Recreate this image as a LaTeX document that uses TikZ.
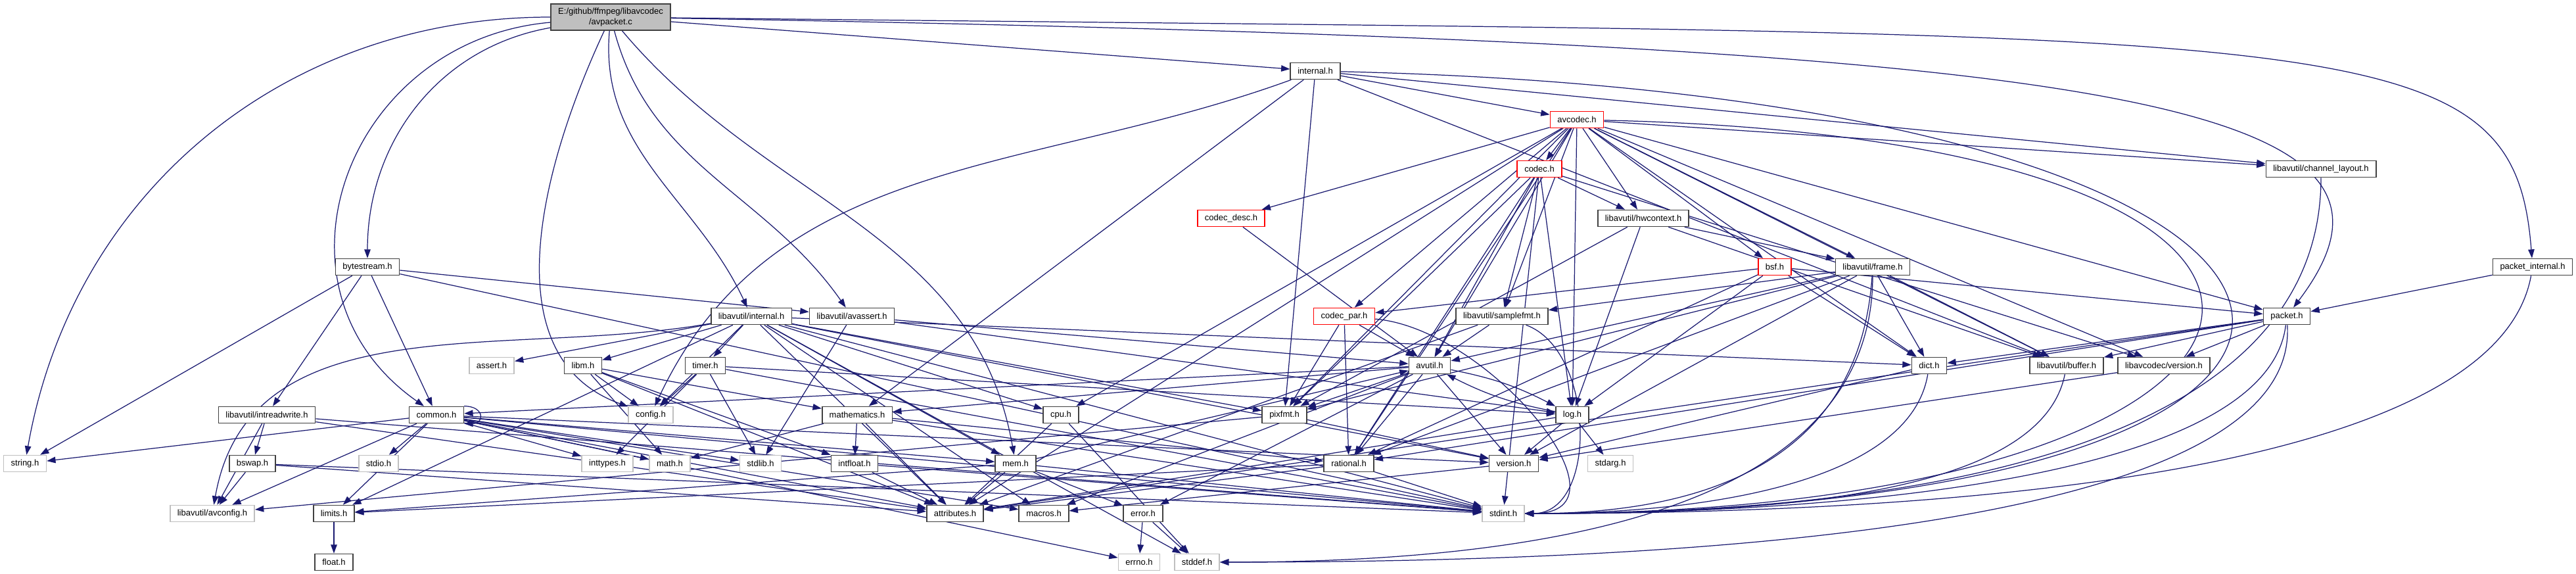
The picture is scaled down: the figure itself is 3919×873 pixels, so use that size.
\documentclass[tikz,border=0pt]{standalone}
\usepackage{fontspec}
\setmainfont{Liberation Sans}
\usetikzlibrary{arrows.meta}
\definecolor{edgeblue}{HTML}{191970}
\definecolor{sysgray}{HTML}{BFBFBF}
\definecolor{boxline}{HTML}{404040}
\definecolor{truncred}{HTML}{FF0000}
\pgfdeclarelayer{edges}
\pgfsetlayers{edges,main}
\tikzset{
  hdr/.style={draw=boxline,fill=white,line width=0.45pt,inner xsep=0.11cm,inner ysep=0pt,minimum height=0.25cm,font=\fontsize{3.7}{4.4}\selectfont,text=black},
  redhdr/.style={hdr,draw=truncred},
  syshdr/.style={hdr,draw=sysgray},
  srcfile/.style={hdr,fill=sysgray,align=center,minimum height=0.40cm},
  dep/.style={draw=edgeblue,line width=0.35pt,-{Triangle[length=3.8pt,width=2.7pt]}}
}

\begin{document}
\begin{tikzpicture}[x=0.01cm,y=0.01cm]
  \useasboundingbox (0,0) rectangle (3919,-873);
  \node[srcfile] (root) at (929,-26) {E:/github/ffmpeg/libavcodec\\/avpacket.c};
  \node[hdr] (internal) at (2001,-108) {internal.h};
  \node[redhdr] (avcodec) at (2399,-182) {avcodec.h};
  \node[redhdr] (codec) at (2342,-257) {codec.h};
  \node[hdr] (chlayout) at (3531,-257) {libavutil/channel\_layout.h};
  \node[redhdr] (codecdesc) at (1873,-332) {codec\_desc.h};
  \node[hdr] (hwctx) at (2500,-332) {libavutil/hwcontext.h};
  \node[hdr] (bytestream) at (559,-406) {bytestream.h};
  \node[redhdr] (bsf) at (2700,-406) {bsf.h};
  \node[hdr] (frame) at (2849,-406) {libavutil/frame.h};
  \node[hdr] (pktint) at (3853,-406) {packet\_internal.h};
  \node[hdr] (avuint) at (1143,-481) {libavutil/internal.h};
  \node[hdr] (avassert) at (1296,-481) {libavutil/avassert.h};
  \node[redhdr] (codecpar) at (2045,-481) {codec\_par.h};
  \node[hdr] (samplefmt) at (2285,-481) {libavutil/samplefmt.h};
  \node[hdr] (packet) at (3479,-481) {packet.h};
  \node[syshdr] (asserth) at (748,-556) {assert.h};
  \node[hdr] (libm) at (887,-556) {libm.h};
  \node[hdr] (timer) at (1073,-556) {timer.h};
  \node[hdr] (avutil) at (2175,-556) {avutil.h};
  \node[hdr] (dict) at (2935,-556) {dict.h};
  \node[hdr] (buffer) at (3144,-556) {libavutil/buffer.h};
  \node[hdr] (lavcver) at (3292,-556) {libavcodec/version.h};
  \node[hdr] (intrw) at (406,-631) {libavutil/intreadwrite.h};
  \node[hdr] (common) at (664,-631) {common.h};
  \node[syshdr] (config) at (990,-631) {config.h};
  \node[hdr] (mathematics) at (1304,-631) {mathematics.h};
  \node[hdr] (cpu) at (1614,-631) {cpu.h};
  \node[hdr] (pixfmt) at (1954,-631) {pixfmt.h};
  \node[hdr] (logh) at (2392,-631) {log.h};
  \node[syshdr] (stringh) at (38,-705) {string.h};
  \node[hdr] (bswap) at (384,-705) {bswap.h};
  \node[syshdr] (stdio) at (576,-705) {stdio.h};
  \node[syshdr] (inttypes) at (924,-705) {inttypes.h};
  \node[syshdr] (mathh) at (1019,-705) {math.h};
  \node[syshdr] (stdlib) at (1157,-705) {stdlib.h};
  \node[hdr] (intfloat) at (1300,-705) {intfloat.h};
  \node[hdr] (mem) at (1545,-705) {mem.h};
  \node[hdr] (rational) at (2052,-705) {rational.h};
  \node[hdr] (version) at (2303,-705) {version.h};
  \node[syshdr] (stdarg) at (2450,-705) {stdarg.h};
  \node[syshdr] (avconfig) at (323,-781) {libavutil/avconfig.h};
  \node[hdr] (limits) at (508,-781) {limits.h};
  \node[hdr] (attributes) at (1453,-781) {attributes.h};
  \node[hdr] (macros) at (1588,-781) {macros.h};
  \node[hdr] (error) at (1739,-781) {error.h};
  \node[syshdr] (stdint) at (2287,-781) {stdint.h};
  \node[hdr] (floath) at (508,-855) {float.h};
  \node[syshdr] (errno) at (1733,-855) {errno.h};
  \node[syshdr] (stddef) at (1821,-855) {stddef.h};

  \begin{pgfonlayer}{edges}
    \fill[white] (0,0) rectangle (3919,-873);
    \draw[dep] (root) to[out=180,in=80] (stringh);
    \draw[dep] (root) to[out=185,in=145,looseness=1.3] (common);
    \draw[dep] (root) to[out=-115,in=160] (config);
    \draw[dep] (root) to[out=190,in=90] (bytestream);
    \draw[dep] (root) to[out=-95,in=115] (avuint);
    \draw[dep] (root) to[out=-75,in=125] (avassert);
    \draw[dep] (root) to[out=-50,in=100] (mem);
    \draw[dep] (root) -- (internal);
    \draw[dep] (root) .. controls +(2300,-40) and +(250,330) .. (packet);
    \draw[dep] (root) .. controls +(2650,-30) and +(-30,380) .. (pktint);

    \foreach \t in {avcodec,mathematics,pixfmt,chlayout,buffer} \draw[dep] (internal) -- (\t);
    \draw[dep] (internal) to[out=200,in=65] (config);
    \draw[dep] (internal) .. controls +(1750,-40) and +(1550,0) .. (stdint);

    \foreach \t in {codec,codecdesc,codecpar,bsf,packet,lavcver,samplefmt,attributes,avutil,buffer,cpu,chlayout,dict,frame,hwctx,logh,pixfmt,rational} \draw[dep] (avcodec) -- (\t);
    \draw[dep] (avcodec) .. controls +(1350,-30) and +(1300,0) .. (stdint);

    \foreach \t in {avutil,hwctx,logh,pixfmt,rational,samplefmt,lavcver,stdint} \draw[dep] (codec) -- (\t);
    \draw[dep] (codecdesc) -- (avutil);
    \foreach \t in {avutil,rational,pixfmt} \draw[dep] (codecpar) -- (\t);
    \draw[dep] (codecpar) to[out=-5,in=0,looseness=1.2] (stdint);
    \foreach \t in {dict,logh,rational,codecpar,packet} \draw[dep] (bsf) -- (\t);
    \foreach \t in {avutil,buffer,dict,rational,samplefmt,pixfmt,version} \draw[dep] (frame) -- (\t);
    \draw[dep] (frame) .. controls +(-20,-300) and +(300,0) .. (stdint);
    \draw[dep] (frame) .. controls +(0,-380) and +(500,0) .. (stddef);
    \foreach \t in {buffer,frame,logh,pixfmt} \draw[dep] (hwctx) -- (\t);
    \draw[dep] (chlayout) .. controls +(0,-400) and +(700,0) .. (stdint);
    \draw[dep] (pktint) -- (packet);
    \draw[dep] (pktint) .. controls +(-60,-330) and +(600,0) .. (stdint);
    \foreach \t in {attributes,buffer,dict,rational,lavcver} \draw[dep] (packet) -- (\t);
    \draw[dep] (packet) .. controls +(-30,-250) and +(500,0) .. (stdint);
    \draw[dep] (packet) .. controls +(20,-330) and +(700,0) .. (stddef);

    \foreach \t in {stringh,avassert,common,intrw,stdint} \draw[dep] (bytestream) -- (\t);
    \foreach \t in {stdlib,avutil,logh} \draw[dep] (avassert) -- (\t);
    \foreach \t in {asserth,libm,timer,config,cpu,dict,mem,pixfmt,version,macros,attributes,stdint,limits,stddef} \draw[dep] (avuint) -- (\t);
    \draw[dep] (avuint) to[out=190,in=80] (avconfig);
    \foreach \t in {mathh,config,attributes,intfloat,mathematics} \draw[dep] (libm) -- (\t);
    \foreach \t in {config,stdlib,stdint,inttypes,logh} \draw[dep] (timer) -- (\t);
    \foreach \t in {stdint,mathh,attributes,rational,intfloat} \draw[dep] (mathematics) -- (\t);
    \foreach \t in {stdint,attributes} \draw[dep] (intfloat) -- (\t);
    \foreach \t in {limits,stdint,attributes,error,avutil} \draw[dep] (mem) -- (\t);
    \foreach \t in {errno,stddef} \draw[dep] (error) -- (\t);
    \foreach \t in {stddef,attributes} \draw[dep] (cpu) -- (\t);
    \foreach \t in {avconfig,version} \draw[dep] (pixfmt) -- (\t);
    \foreach \t in {common,error,rational,version,macros,mathematics,pixfmt} \draw[dep] (avutil) -- (\t);
    \draw[dep] (avutil) to[bend left=8] (logh);
    \draw[dep] (logh) to[bend left=8] (avutil);
    \foreach \t in {stdarg,attributes,version} \draw[dep] (logh) -- (\t);
    \draw[dep] (dict) -- (version);
    \draw[dep] (dict) .. controls +(-30,-180) and +(300,0) .. (stdint);
    \draw[dep] (buffer) .. controls +(-40,-200) and +(400,0) .. (stdint);
    \foreach \t in {avutil,attributes} \draw[dep] (samplefmt) -- (\t);
    \draw[dep] (samplefmt) to[out=-20,in=0] (stdint);
    \draw[dep] (lavcver) -- (version);
    \foreach \t in {stdint,limits,attributes} \draw[dep] (rational) -- (\t);
    \draw[dep] (version) -- (macros);

    \foreach \t in {errno,inttypes,limits,mathh,stdint,stdio,stdlib,stringh,attributes,macros,version,avconfig,mem} \draw[dep] (common) -- (\t);
    \draw[dep] (common.north east) to[out=0,in=0,looseness=3] (common.south east);
    \foreach \t in {stdint,avconfig,attributes,bswap} \draw[dep] (intrw) -- (\t);
    \foreach \t in {stdint,avconfig,attributes} \draw[dep] (bswap) -- (\t);
    \draw[dep] (limits) -- (floath);
  \end{pgfonlayer}
\end{tikzpicture}
\end{document}
